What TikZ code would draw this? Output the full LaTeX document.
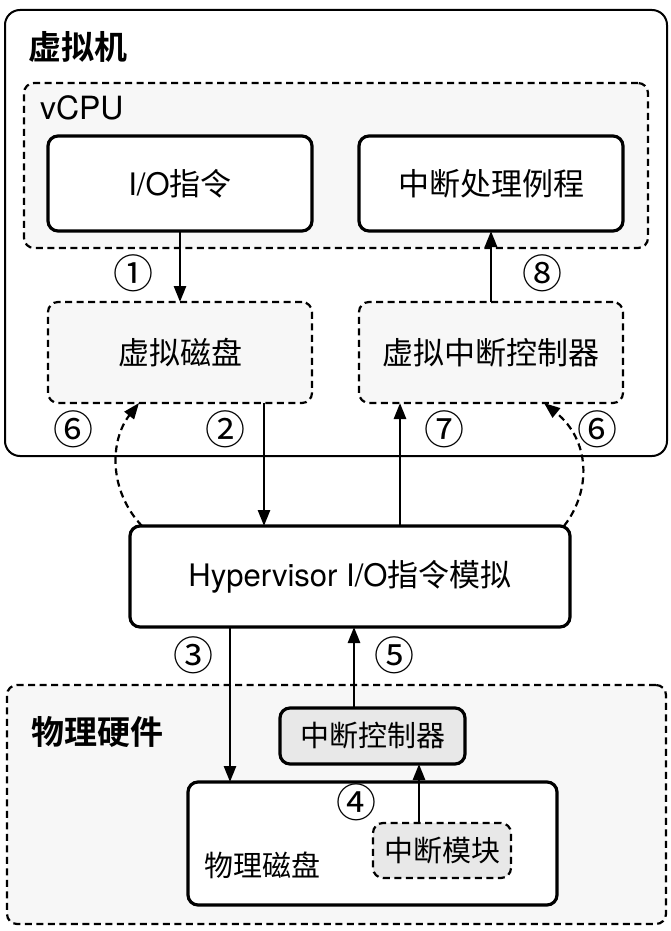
\documentclass[tikz,border=0pt]{standalone}
\usepackage{fontspec}
\setmainfont{TeX Gyre Heros}
\newfontfamily\cjk{Noto Sans CJK SC}
\newfontfamily\cjkb{Noto Sans CJK SC Bold}
\usetikzlibrary{arrows.meta,calc}
\definecolor{lightfill}{HTML}{F7F7F7}
\definecolor{grayfill}{HTML}{E8E8E8}
\newcommand{\hv}{\fontspec{TeX Gyre Heros}}
\begin{document}
\begin{tikzpicture}[x=1pt,y=-1pt,
  every node/.style={inner sep=0pt,outer sep=0pt},
  bigfont/.style={font=\cjk\fontsize{31}{36}\selectfont},
  midfont/.style={font=\cjk\fontsize{29}{34}\selectfont},
  headfont/.style={font=\cjkb\fontsize{33}{38}\selectfont},
  numfont/.style={font=\cjk\fontsize{40}{44}\selectfont},
  solidbox/.style={draw=black,line width=3.2pt,rounded corners=10pt,fill=white},
  dashbox/.style={draw=black,line width=2.2pt,dash pattern=on 7pt off 4.5pt,rounded corners=10pt},
  arr/.style={draw=black,line width=2.7pt,-{Triangle[length=16pt,width=12pt]}},
  darr/.style={draw=black,line width=2.2pt,dash pattern=on 7pt off 4.5pt,-{Triangle[length=16pt,width=12pt]}}]
\useasboundingbox (0,0) rectangle (670,931);
\fill[white] (0,0) rectangle (670,931);
% containers
\node[draw=black,line width=2pt,rounded corners=15pt,minimum width=662pt,minimum height=446pt] (vm) at (336,233) {};
\node[headfont,anchor=west] (vmlabel) at (28,47) {虚拟机};
\node[dashbox,fill=lightfill,minimum width=624pt,minimum height=165pt] (vcpu) at (336,165.5) {};
\node[font=\hv\fontsize{32}{36}\selectfont,anchor=west] (vcpulabel) at (40,108) {vCPU};
\node[solidbox,bigfont,minimum width=264pt,minimum height=95pt] (io) at (180,183.5) {{\hv I/O}指令};
\node[solidbox,bigfont,minimum width=264pt,minimum height=95pt] (isr) at (491,183.5) {中断处理例程};
\node[dashbox,fill=lightfill,bigfont,minimum width=264pt,minimum height=101pt] (vdisk) at (180,352.5) {虚拟磁盘};
\node[dashbox,fill=lightfill,bigfont,minimum width=264pt,minimum height=101pt] (vic) at (491,352.5) {虚拟中断控制器};
\node[solidbox,bigfont,minimum width=440pt,minimum height=101pt] (hyp) at (350,576.5) {{\hv Hypervisor I/O}指令模拟};
\node[dashbox,fill=lightfill,minimum width=659pt,minimum height=239pt] (hw) at (336.5,804.5) {};
\node[headfont,anchor=west] (hwlabel) at (31,732) {物理硬件};
\node[solidbox,fill=grayfill,midfont,minimum width=185pt,minimum height=56pt] (ic) at (372.5,736) {中断控制器};
\node[solidbox,minimum width=369pt,minimum height=123pt] (pdisk) at (372.5,843.5) {};
\node[midfont,anchor=west] (pdisklabel) at (204,865) {物理磁盘};
\node[dashbox,fill=grayfill,midfont,minimum width=138pt,minimum height=55pt] (im) at (442,850.5) {中断模块};
% arrows
\coordinate (x2) at (264,0);
\coordinate (x7) at (400,0);
\coordinate (x3) at (230,0);
\coordinate (x5) at (354,0);
\coordinate (x4) at (419,0);
\draw[arr] (io.south) -- (vdisk.north);
\draw[arr] (vic.north -| isr.south) -- (isr.south);
\draw[arr] (x2 |- vdisk.south) -- (x2 |- hyp.north);
\draw[arr] (x7 |- hyp.north) -- (x7 |- vic.south);
\draw[arr] (x3 |- hyp.south) -- (x3 |- pdisk.north);
\draw[arr] (x5 |- ic.north) -- (x5 |- hyp.south);
\draw[arr] (x4 |- im.north) -- (x4 |- ic.south);
\coordinate (dls) at ($(hyp.north west)+(12,0)$);
\coordinate (dle) at ($(vdisk.south west)+(91,0)$);
\coordinate (drs) at ($(hyp.north east)+(-6,0)$);
\coordinate (dre) at ($(vic.south east)+(-79,0)$);
\draw[darr] (dls) .. controls (108,490) and (110,440) .. (dle);
\draw[darr] (drs) .. controls (592,490) and (590,440) .. (dre);
% labels
\node[numfont] (n1) at (133,273) {①};
\node[numfont] (n8) at (542,273) {⑧};
\node[numfont] (n6a) at (73,429) {⑥};
\node[numfont] (n2) at (225,429) {②};
\node[numfont] (n7) at (444,429) {⑦};
\node[numfont] (n6b) at (597,429) {⑥};
\node[numfont] (n3) at (193,655) {③};
\node[numfont] (n5) at (394,655) {⑤};
\node[numfont] (n4) at (356,802) {④};
\end{tikzpicture}
\end{document}
